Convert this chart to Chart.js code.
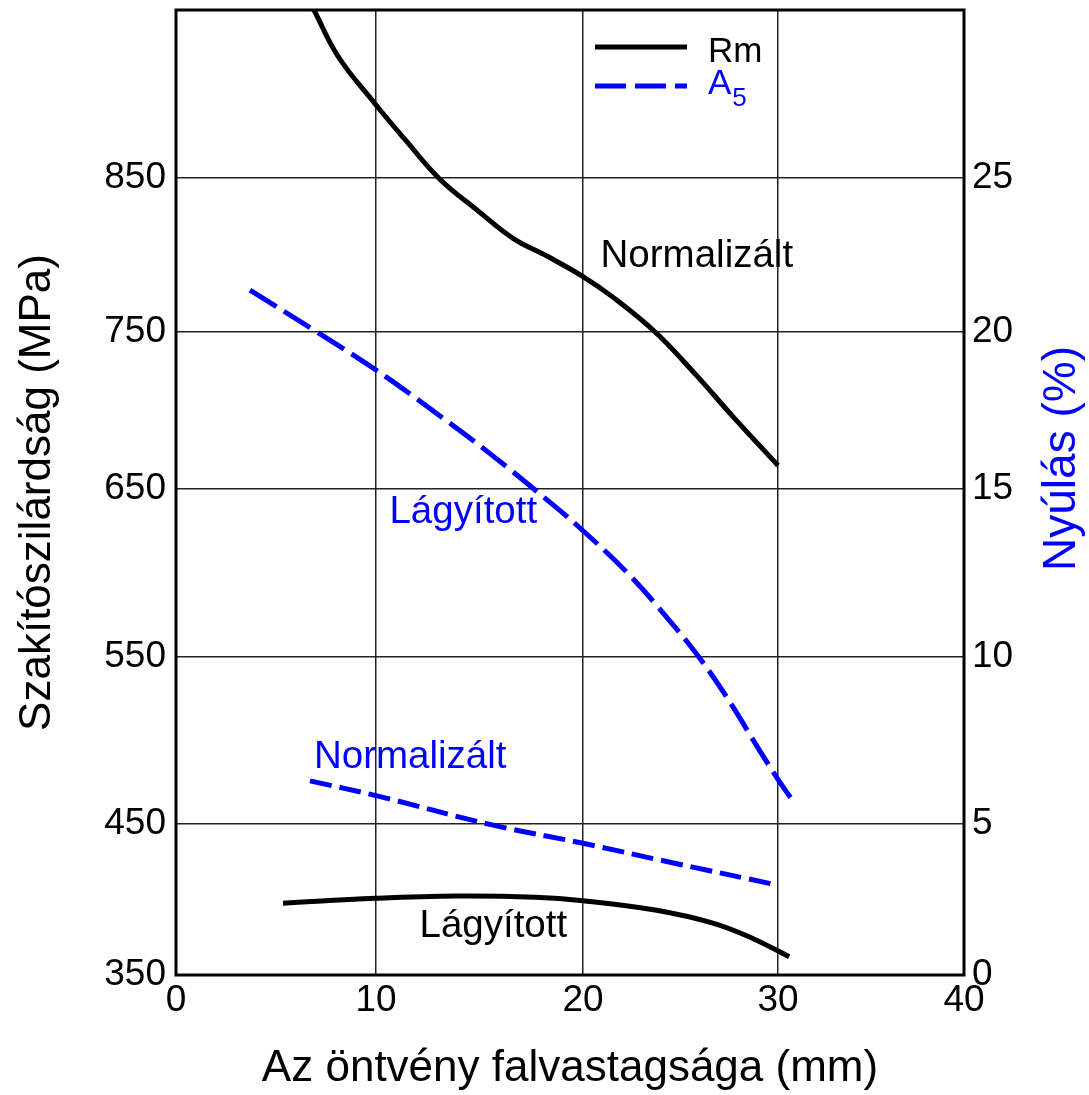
<!DOCTYPE html>
<html>
<head>
<meta charset="utf-8">
<title>Szakítószilárdság és nyúlás a falvastagság függvényében</title>
<script src="https://cdn.jsdelivr.net/npm/chart.js@4.4.1/dist/chart.umd.min.js"></script>
<style>
  html, body { margin: 0; padding: 0; background: #fff; }
  #wrap { width: 1089px; height: 1095px; }
</style>
</head>
<body>
<div id="wrap"><canvas id="chart"></canvas></div>
<script>
// Tengelyek osztásai
const xTicks = [0, 10, 20, 30, 40];
const rmTicks = [350, 450, 550, 650, 750, 850];
const a5Ticks = [0, 5, 10, 15, 20, 25];

// Rm (MPa) - normalizált
const rmNormX = [6.9, 8.1, 9.9, 11.4, 13.1, 14.9, 16.6, 18.3, 20.0, 21.6, 23.7, 25.7, 27.7, 30.0];
const rmNormY = [959, 929, 899, 875, 849, 829, 811, 799, 786, 772, 750, 724, 696, 665];

// Rm (MPa) - lágyított
const rmLagyX = [5.35, 10.0, 13.9, 17.7, 20.0, 23.7, 26.7, 28.7, 30.6];
const rmLagyY = [397.5, 400.8, 402.3, 401.5, 399.2, 393.0, 384.2, 374.2, 362.1];

// A5 (%) - lágyított
const a5LagyX = [3.7, 6.9, 10.0, 12.8, 15.6, 18.1, 19.8, 22.3, 24.5, 25.9, 27.3, 29.1, 30.05, 30.8];
const a5LagyY = [21.36, 20.06, 18.79, 17.47, 16.08, 14.76, 13.87, 12.49, 11.04, 10.03, 8.86, 7.16, 6.29, 5.69];

// A5 (%) - normalizált
const a5NormX = [6.7, 10.0, 15.6, 20.0, 24.7, 29.95];
const a5NormY = [6.29, 5.85, 4.97, 4.36, 3.70, 2.98];

const BLUE = '#0000ff';
const FONT = '"Liberation Sans", Arial, sans-serif';

// Az eredeti ábra osztásai nem egyenletesek: osztásvonalak helye a tengely hosszának arányában
const tickAt = { x: [0, 0.2538, 0.5165, 0.7640, 1], y: [0, 0.1565, 0.3295, 0.5036, 0.6663, 0.8259, 1] };
const axisWarp = {
  x:  { values: xTicks, at: tickAt.x },
  y:  { values: [...rmTicks, 959], at: tickAt.y },
  y1: { values: [...a5Ticks, 30.45], at: tickAt.y }
};

class WarpedScale extends Chart.LinearScale {
  static id = 'warped';
  static defaults = {};

  getPixelForValue(value) {
    if (value === null || value === undefined || isNaN(value)) return NaN;
    const { values, at } = axisWarp[this.id];
    let i = 1;
    while (i < values.length - 1 && value > values[i]) i++;
    const t = (value - values[i - 1]) / (values[i] - values[i - 1]);
    return this.getPixelForDecimal(at[i - 1] + t * (at[i] - at[i - 1]));
  }

  getValueForPixel(pixel) {
    const d = this.getDecimalForPixel(pixel);
    const { values, at } = axisWarp[this.id];
    let i = 1;
    while (i < at.length - 1 && d > at[i]) i++;
    const t = (d - at[i - 1]) / (at[i] - at[i - 1]);
    return values[i - 1] + t * (values[i] - values[i - 1]);
  }
}
Chart.register(WarpedScale);

function toPoints(xs, ys) {
  return xs.map((x, i) => ({ x: x, y: ys[i] }));
}

// Feliratok a görbék mellett (adatkoordinátákban)
const curveLabels = [
  { text: 'Normalizált', x: 20.9, y: 792, axis: 'y', color: '#000' },
  { text: 'Lágyított', x: 12.1, y: 375, axis: 'y', color: '#000' },
  { text: 'Lágyított', x: 10.65, y: 14.0, axis: 'y1', color: BLUE },
  { text: 'Normalizált', x: 6.9, y: 6.67, axis: 'y1', color: BLUE }
];

const extras = {
  id: 'extras',
  afterDraw(chart) {
    const { ctx, chartArea: a, scales } = chart;
    ctx.save();

    // keret
    ctx.strokeStyle = '#000';
    ctx.lineWidth = 3;
    ctx.setLineDash([]);
    ctx.strokeRect(a.left, a.top, a.right - a.left, a.bottom - a.top);

    // görbefeliratok
    ctx.textAlign = 'left';
    ctx.textBaseline = 'alphabetic';
    ctx.font = '38.5px ' + FONT;
    curveLabels.forEach(l => {
      ctx.fillStyle = l.color;
      ctx.fillText(l.text, scales.x.getPixelForValue(l.x), scales[l.axis].getPixelForValue(l.y));
    });

    // jelmagyarázat
    const ds = chart.data.datasets;
    const items = [
      { ds: ds[0], text: 'Rm', sub: '', y: a.top + 37, base: a.top + 52 },
      { ds: ds[2], text: 'A', sub: '5', y: a.top + 76, base: a.top + 84 }
    ];
    const x0 = a.left + 419, x1 = a.left + 511, tx = a.left + 532;
    items.forEach(it => {
      ctx.strokeStyle = it.ds.borderColor;
      ctx.lineWidth = it.ds.borderWidth;
      ctx.setLineDash(it.ds.borderDash || []);
      ctx.beginPath();
      ctx.moveTo(x0, it.y);
      ctx.lineTo(x1, it.y);
      ctx.stroke();
      ctx.fillStyle = it.ds.borderColor;
      ctx.font = '35px ' + FONT;
      ctx.fillText(it.text, tx, it.base);
      if (it.sub) {
        const w = ctx.measureText(it.text).width;
        ctx.font = '26px ' + FONT;
        ctx.fillText(it.sub, tx + w + 1, it.base + 12);
      }
    });

    // jobb oldali tengelycím
    ctx.setLineDash([]);
    ctx.fillStyle = BLUE;
    ctx.font = '46px ' + FONT;
    ctx.textAlign = 'center';
    ctx.textBaseline = 'middle';
    ctx.translate(a.right + 98, (a.top + a.bottom) / 2 - 34);
    ctx.rotate(-Math.PI / 2);
    ctx.fillText('Nyúlás (%)', 0, 0);
    ctx.restore();
  }
};

Chart.defaults.font.family = FONT;
Chart.defaults.color = '#000';

new Chart(document.getElementById('chart'), {
  type: 'line',
  data: {
    datasets: [
      {
        label: 'Rm - Normalizált',
        data: toPoints(rmNormX, rmNormY),
        yAxisID: 'y',
        borderColor: '#000',
        borderWidth: 5
      },
      {
        label: 'Rm - Lágyított',
        data: toPoints(rmLagyX, rmLagyY),
        yAxisID: 'y',
        borderColor: '#000',
        borderWidth: 5
      },
      {
        label: 'A5 - Lágyított',
        data: toPoints(a5LagyX, a5LagyY),
        yAxisID: 'y1',
        borderColor: BLUE,
        borderWidth: 5,
        borderDash: [31, 9]
      },
      {
        label: 'A5 - Normalizált',
        data: toPoints(a5NormX, a5NormY),
        yAxisID: 'y1',
        borderColor: BLUE,
        borderWidth: 5,
        borderDash: [22, 8]
      }
    ]
  },
  options: {
    responsive: true,
    maintainAspectRatio: false,
    animation: false,
    events: [],
    layout: { padding: { top: 10, left: 0, right: 0, bottom: 0 } },
    elements: {
      point: { radius: 0 },
      line: { tension: 0.4, borderCapStyle: 'butt' }
    },
    datasets: { line: { clip: 0 } },
    plugins: {
      legend: { display: false },
      tooltip: { enabled: false }
    },
    scales: {
      x: {
        type: 'warped',
        min: 0,
        max: 40,
        afterBuildTicks: s => { s.ticks = xTicks.map(v => ({ value: v })); },
        afterFit: s => { s.height = 120; s.paddingLeft = 0; s.paddingRight = 0; },
        ticks: { font: { size: 37 }, padding: 4, maxRotation: 0, autoSkip: false, callback: v => String(v) },
        grid: { color: '#222', lineWidth: 1.5, drawTicks: false },
        border: { display: false },
        title: { display: true, text: 'Az öntvény falvastagsága (mm)', font: { size: 44 }, padding: { top: 0, bottom: 0 } }
      },
      y: {
        type: 'warped',
        position: 'left',
        min: 350,
        max: 959,
        afterBuildTicks: s => { s.ticks = rmTicks.map(v => ({ value: v })); },
        afterFit: s => { s.width = 176; s.paddingTop = 0; s.paddingBottom = 0; },
        ticks: { font: { size: 37 }, padding: 10, autoSkip: false, callback: v => String(v) },
        grid: { color: '#222', lineWidth: 1.5, drawTicks: false },
        border: { display: false },
        title: { display: true, text: 'Szakítószilárdság (MPa)', font: { size: 44 }, padding: { top: 11, bottom: 0 } }
      },
      y1: {
        type: 'warped',
        position: 'right',
        min: 0,
        max: 30.45,
        afterBuildTicks: s => { s.ticks = a5Ticks.map(v => ({ value: v })); },
        afterFit: s => { s.width = 125; s.paddingTop = 0; s.paddingBottom = 0; },
        ticks: { font: { size: 37 }, padding: 8, autoSkip: false, callback: v => String(v) },
        grid: { display: false, drawTicks: false },
        border: { display: false }
      }
    }
  },
  plugins: [extras]
});
</script>
</body>
</html>
